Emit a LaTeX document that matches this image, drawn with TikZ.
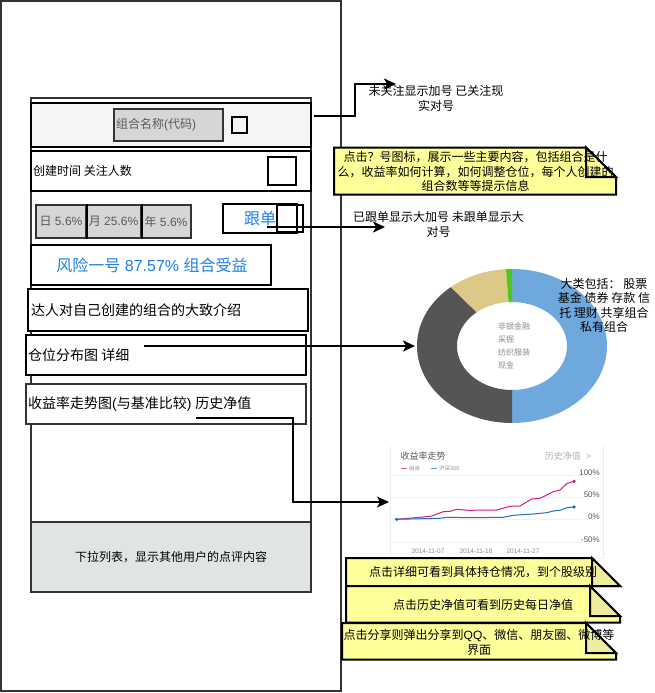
\documentclass[tikz,border=0pt]{standalone}
\usepackage{fontspec}
\setmainfont{Liberation Sans}
\newfontfamily\cjk{Noto Sans CJK SC}
\newcommand{\C}[1]{{\cjk #1}}
\usetikzlibrary{arrows.meta}
\definecolor{framecol}{HTML}{333333}
\definecolor{blueText}{HTML}{1E7FE8}
\definecolor{noteFill}{HTML}{FFFF99}
\definecolor{foldFill}{HTML}{EFEC9F}
\definecolor{panelGrey}{HTML}{D5D6D8}
\definecolor{commentGrey}{HTML}{E0E4E4}
\definecolor{pinkLine}{HTML}{D0207A}
\definecolor{blueLine}{HTML}{1F6FC0}
\definecolor{donutBlue}{HTML}{6FA8DC}
\definecolor{donutDark}{HTML}{555555}
\definecolor{donutTan}{HTML}{DCC987}
\definecolor{donutGreen}{HTML}{4FC81E}
\tikzset{
  fsA/.style={font=\fontsize{12}{14.5}\selectfont},
  fsB/.style={font=\fontsize{14}{16}\selectfont},
  fsC/.style={font=\fontsize{16}{18}\selectfont},
  bx/.style 2 args={draw=black,line width=2pt,minimum width=#1,minimum height=#2,inner sep=0pt,anchor=center},
  txt/.style={inner sep=0pt,align=center,fsA},
  ltxt/.style={inner sep=0pt,anchor=west,align=left},
  conn/.style={draw=black,line width=2pt,-{Stealth[length=12pt,width=11pt,inset=3pt]}},
  frameline/.style={draw=framecol,line width=2pt},
  chartgrid/.style={draw=black!6,line width=.6pt},
  charttxt/.style={inner sep=0pt,text=black!45,font=\fontsize{6.5}{8}\selectfont},
}
\newcommand{\ringseg}[3]{%
  \fill[#1] plot[domain=#2:#3,samples=50] ({512+95*cos(\x)},{346-77*sin(\x)})
    -- plot[domain=#3:#2,samples=50] ({512+55*cos(\x)},{346-44*sin(\x)}) -- cycle;}
% x1 y1 x2 y2 foldx foldy
\newcommand{\notebox}[7]{%
  \path[draw=black,fill=noteFill,line width=2pt,line join=miter]
    (#1,#2) -- (#5,#2) -- (#3,#6) -- (#3,#4) -- (#1,#4) -- cycle;
  \path[draw=black,fill=#7,line width=2pt]
    (#5,#2) -- (#3,#6) -- (#5,#6) -- cycle;}
\begin{document}
\begin{tikzpicture}[x=1pt,y=-1pt]
\useasboundingbox (0,0) rectangle (654,693);
\fill[white] (0,0) rectangle (654,693);

% phone frames
\draw[frameline] (1,1) rectangle (341,691);
\draw[frameline,line width=1.5pt] (31,98) rectangle (311,592);

% header rows
\node[bx={280}{44},fill=black!4] (header) at (171,125) {};
\node[bx={109}{32},fill=panelGrey,draw=framecol] (name) at (168.5,125) {};
\node[ltxt,fsA,text=black!65] (nametxt) at (116,125) {\C{组合名称}(\C{代码})};
\node[bx={15}{16}] (smallsq) at (239.5,125) {};
\node[bx={280}{39.5}] (row) at (171,171) {};
\node[ltxt,fsA] (created) at (33,171) {\C{创建时间 关注人数}};
\node[bx={28}{28}] (bigsq) at (282,171) {};

% returns
\node[bx={50}{33},fill=panelGrey,draw=framecol,fsA,text=black!65] (day) at (61,221.5) {\C{日} 5.6\%};
\node[bx={55}{33},fill=panelGrey,draw=framecol,fsA,text=black!65] (month) at (113.5,221.5) {\C{月} 25.6\%};
\node[bx={50}{33},fill=panelGrey,draw=framecol,fsA,text=black!65] (year) at (166,221.5) {\C{年} 5.6\%};
\draw[line width=2pt] (day.north east) -- (day.south east) (month.north east) -- (month.south east);

% follow
\node[bx={74}{29},fsC,text=blueText] (follow) at (260,218.5) {\C{跟单}\hspace{8pt}};
\node[bx={26}{27}] (followsq) at (290,218.5) {};

% risk and description
\node[bx={240}{40},fsC,text=blueText] (risk) at (151,265) {\hspace{2pt}\C{风险一号} 87.57\% \C{组合受益}};
\node[bx={280}{42},fill=white] (intro) at (168,310) {};
\node[ltxt,fsB] (introtxt) at (31,310) {\C{达人对自己创建的组合的大致介绍}};
\node[bx={280}{40},fill=white] (alloc) at (166,355) {};
\node[ltxt,fsB] (alloctxt) at (28,355) {\C{仓位分布图 详细}};
\node[bx={280}{40},fill=white,draw=framecol] (trend) at (166,403.5) {};
\node[ltxt,fsB] (trendtxt) at (28,404) {\C{收益率走势图}(\C{与基准比较}) \C{历史净值}};

% bottom panel
\node[draw=framecol,line width=1.5pt,fill=commentGrey,minimum width=280,minimum height=70,fsA,inner sep=0pt] (comments) at (171,557) {\C{下拉列表，显示其他用户的点评内容}};

% donut
\ringseg{donutBlue}{90}{-90}
\ringseg{donutDark}{-90}{-230}
\ringseg{donutTan}{130}{93.6}
\ringseg{donutGreen}{93.6}{90}
\coordinate (donutleft) at (415,346);
\node[inner sep=0pt,text=black!45,font=\fontsize{8}{13}\selectfont,align=left,anchor=west] (donutkeys) at (498,346) {\C{非银金融}\\\C{采掘}\\\C{纺织服装}\\\C{现金}};

% trend chart
\draw[draw=black!7,line width=.6pt] (390,446) -- (390,558) -- (603,558) -- (603,446);
\foreach \gy in {475,497,519,542} \draw[chartgrid] (393,\gy) -- (582,\gy);
\draw[pinkLine,line width=1pt] (396.7,519.3) -- (420,517.3) -- (431.7,516) -- (443.3,511.7) -- (450,511.3) -- (456.7,509.3) -- (468.3,510.3) -- (496.7,510) -- (510,506.3) -- (520,506) -- (531.7,499) -- (540,498.3) -- (553.3,491.7) -- (560,490) -- (566.7,483.7) -- (574,481.3);
\fill[pinkLine] (574,481.3) circle (1.8);
\draw[blueLine,line width=1pt] (396.7,519.3) -- (440,518.3) -- (446.7,517.3) -- (473.3,517.7) -- (503.3,517.3) -- (513.3,515.3) -- (533.3,514) -- (546.7,512.7) -- (553.3,511) -- (560,510.3) -- (566.7,507.7) -- (574,507);
\fill[blueLine] (574,507) circle (1.8) (396.7,519.3) circle (1.8);
\node[charttxt,font=\fontsize{9}{10}\selectfont,text=black!65] (charttitle) at (423,456) {\C{收益率走势}};
\node[charttxt,font=\fontsize{9}{10}\selectfont,text=black!30] (chartlink) at (568,456) {\C{历史净值} \ >};
\draw[pinkLine!70!white,line width=.6pt] (401,468.5) -- (407,468.5);
\node[charttxt,font=\fontsize{5.5}{6}\selectfont,anchor=west] (legendA) at (409,468.5) {\C{组合}};
\draw[blueLine!70!white,line width=.6pt] (431,468.5) -- (437,468.5);
\node[charttxt,font=\fontsize{5.5}{6}\selectfont,anchor=west] (legendB) at (439,468.5) {\C{沪深}300};
\node[charttxt,font=\fontsize{8}{9}\selectfont,anchor=east,text=black!65] (pA) at (600,472.5) {100\%};
\node[charttxt,font=\fontsize{8}{9}\selectfont,anchor=east,text=black!65] (pB) at (600,495) {50\%};
\node[charttxt,font=\fontsize{8}{9}\selectfont,anchor=east,text=black!65] (pC) at (600,517) {0\%};
\node[charttxt,font=\fontsize{8}{9}\selectfont,anchor=east,text=black!65] (pD) at (600,539.5) {-50\%};
\node[charttxt] (dA) at (428,551) {2014-11-07};
\node[charttxt] (dB) at (476,551) {2014-11-18};
\node[charttxt] (dC) at (523,551) {2014-11-27};
\coordinate (chartleft) at (389,502);

% right labels
\coordinate (annoTop) at (396,84);
\coordinate (annoFollow) at (385,227);
\node[txt] (labelA) at (436,98.5) {\C{未关注显示加号 已关注现}\\\C{实对号}};
\node[txt] (labelB) at (438.5,224.5) {\C{已跟单显示大加号 未跟单显示大}\\\C{对号}};
\node[txt] (labelC) at (604,305.5) {\C{大类包括：\ 股票}\\\C{基金 债券 存款 信}\\\C{托 理财 共享组合}\\\C{私有组合}};

% notes
\notebox{334}{147.5}{616}{194.5}{586}{177}{noteFill}
\node[txt] (noteA) at (475.5,171.5) {\C{点击？号图标，展示一些主要内容，包括组合是什}\\\C{么，收益率如何计算，如何调整仓位，每个人创建的}\\\C{组合数等等提示信息}};
\notebox{346}{558}{620}{586}{592}{586}{foldFill}
\node[txt] (noteB) at (483,572) {\C{点击详细可看到具体持仓情况，到个股级别}};
\notebox{346}{586}{620}{622.5}{590}{616}{foldFill}
\node[txt] (noteC) at (483,604.5) {\C{点击历史净值可看到历史每日净值}};
\notebox{342}{623}{616}{659.5}{586}{653}{foldFill}
\node[txt] (noteD) at (479,642.5) {\C{点击分享则弹出分享到}QQ\C{、微信、朋友圈、微博等}\\\C{界面}};

% connectors
\coordinate (fromHeader) at (314,116);
\coordinate (fromFollow) at (267,227);
\coordinate (fromAlloc) at (144,346);
\coordinate (fromTrend) at (196,417.5);
\draw[conn] (fromHeader) -- (355,116) -- (355,84) -- (annoTop);
\draw[conn] (fromFollow) -- (annoFollow);
\draw[conn] (fromAlloc) -- (donutleft);
\draw[conn] (fromTrend) -- (293,417.5) -- (293,502) -- (chartleft);
\end{tikzpicture}
\end{document}
